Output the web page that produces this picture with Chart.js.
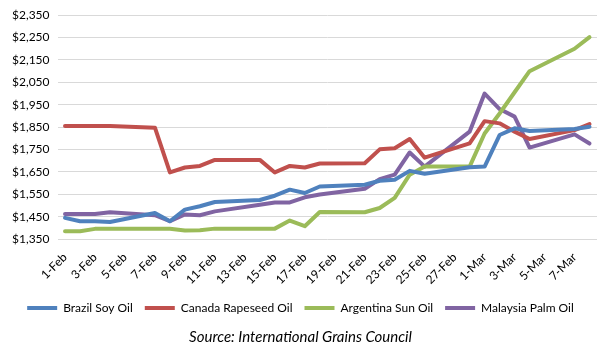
<!DOCTYPE html>
<html>
<head>
<meta charset="utf-8">
<script src="https://cdn.jsdelivr.net/npm/chart.js@4"></script>
<style>
  html, body { margin: 0; padding: 0; background: #fff; }
  #wrap { width: 609px; height: 354px; }
</style>
</head>
<body>
<div id="wrap"><canvas id="oilChart"></canvas></div>
<script>
const days = ['1-Feb','2-Feb','3-Feb','4-Feb','5-Feb','6-Feb','7-Feb','8-Feb','9-Feb','10-Feb',
  '11-Feb','12-Feb','13-Feb','14-Feb','15-Feb','16-Feb','17-Feb','18-Feb','19-Feb','20-Feb',
  '21-Feb','22-Feb','23-Feb','24-Feb','25-Feb','26-Feb','27-Feb','28-Feb',
  '1-Mar','2-Mar','3-Mar','4-Mar','5-Mar','6-Mar','7-Mar','8-Mar'];

// weekends have no quote, the line just spans them
const brazilSoy = [1445,1430,1430,1427,null,null,1467,1430,1482,1497,
  1516,null,null,1525,1544,1571,1556,1585,null,null,
  1593,1611,1615,1655,1642,null,null,1671,
  1674,1815,1845,1833,null,null,1842,1852];

const canadaRapeseed = [1855,1855,1855,1855,null,null,1848,1648,1670,1677,
  1704,null,null,1704,1648,1677,1670,1688,null,null,
  1689,1751,1756,1797,1714,null,null,1778,
  1877,1867,1830,1797,null,null,1837,1864];

const argentinaSun = [1385,1385,1396,1396,null,null,1396,1396,1389,1390,
  1397,null,null,1397,1397,1433,1408,1471,null,null,
  1470,1489,1534,1638,1674,null,null,1674,
  1822,1911,2006,2100,null,null,2200,2252];

const malaysiaPalm = [1462,1462,1462,1470,null,null,1457,1430,1460,1457,
  1474,null,null,1504,1514,1514,1537,1549,null,null,
  1575,1618,1638,1737,1674,null,null,1830,
  2000,1931,1897,1759,null,null,1818,1777];

const font = "Lato, 'Liberation Sans', sans-serif";

function line(label, data, color) {
  return {
    label: label,
    data: data,
    borderColor: color,
    backgroundColor: color,
    borderWidth: 4,
    pointRadius: 0,
    tension: 0,
    spanGaps: true,
    borderCapStyle: 'round',
    borderJoinStyle: 'round'
  };
}

new Chart(document.getElementById('oilChart'), {
  type: 'line',
  data: {
    labels: days,
    datasets: [
      line('Brazil Soy Oil', brazilSoy, '#4F81BD'),
      line('Canada Rapeseed Oil', canadaRapeseed, '#C0504D'),
      line('Argentina Sun Oil', argentinaSun, '#9BBB59'),
      line('Malaysia Palm Oil', malaysiaPalm, '#8064A2')
    ]
  },
  options: {
    responsive: true,
    maintainAspectRatio: false,
    animation: false,
    layout: { padding: { left: 4, right: 12, top: 6, bottom: 4 } },
    plugins: {
      legend: {
        position: 'bottom',
        labels: {
          usePointStyle: true,
          pointStyle: 'line',
          pointStyleWidth: 30,
          boxHeight: 12,
          padding: 12,
          color: '#000',
          font: { family: font, size: 12 }
        }
      },
      title: {
        display: true,
        position: 'bottom',
        text: 'Source: International Grains Council',
        color: '#000',
        font: { family: font, size: 15, style: 'italic', weight: 'normal' },
        padding: { top: 4, bottom: 4 }
      },
      tooltip: { enabled: false }
    },
    scales: {
      x: {
        offset: true,
        grid: { display: false },
        border: { display: false },
        ticks: {
          autoSkip: false,
          maxRotation: 45,
          minRotation: 45,
          color: '#000',
          font: { family: font, size: 12 },
          callback: function(v, i) { return i % 2 === 0 ? days[i] : ''; }
        }
      },
      y: {
        min: 1350,
        max: 2350,
        grid: { color: '#D9D9D9', lineWidth: 1, drawTicks: false },
        border: { display: false },
        ticks: {
          stepSize: 100,
          padding: 8,
          color: '#000',
          font: { family: font, size: 12 },
          callback: function(v) { return '$' + v.toLocaleString('en-US'); }
        }
      }
    }
  }
});
</script>
</body>
</html>
